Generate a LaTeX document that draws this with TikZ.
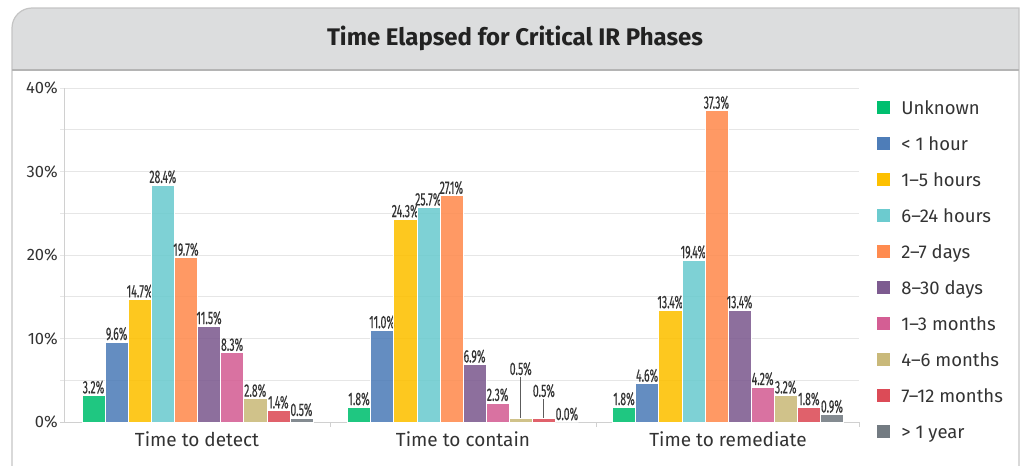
\documentclass[tikz,border=0pt]{standalone}
\usepackage{fontspec}
\setmainfont{Fira Sans}
\newfontfamily\valfont[FakeStretch=0.58,FakeBold=0.3]{Fira Sans}
\usepackage{xcolor}
\usepackage{tikz}
\usetikzlibrary{positioning}

\definecolor{txt}{HTML}{333333}
\definecolor{titletxt}{HTML}{222222}
\definecolor{titlebg}{HTML}{DCDDDE}
\definecolor{framec}{HTML}{C4C4C4}
\definecolor{sepc}{HTML}{B4B4B4}
\definecolor{gridc}{HTML}{E6E6E6}
\definecolor{axisc}{HTML}{D0D0D0}
\definecolor{c0}{HTML}{00BF6F}
\definecolor{c1}{HTML}{4E7DB8}
\definecolor{c2}{HTML}{FDC000}
\definecolor{c3}{HTML}{6CCBCF}
\definecolor{c4}{HTML}{FF8B4F}
\definecolor{c5}{HTML}{7D5B90}
\definecolor{c6}{HTML}{D45E94}
\definecolor{c7}{HTML}{C9B97A}
\definecolor{c8}{HTML}{DC4B57}
\definecolor{c9}{HTML}{737B82}

\begin{document}
\begin{tikzpicture}[x=1pt,y=-1pt]
\tikzstyle{bar}=[draw=white, line width=.5pt, fill opacity=.88]
\tikzstyle{val}=[font=\valfont\fontsize{18}{18}\selectfont, text=txt, anchor=south, inner sep=1.2pt]
\tikzstyle{gridline}=[draw=gridc, line width=1pt]
\tikzstyle{axisline}=[draw=axisc, line width=1pt]
\tikzstyle{leader}=[draw=txt!80, line width=.8pt]
\tikzstyle{ylab}=[font=\fontsize{16.5}{16.5}\selectfont, text=txt, anchor=east, inner sep=0pt]
\tikzstyle{catlab}=[font=\fontsize{19}{19}\selectfont, text=txt, anchor=base, inner sep=0pt]
\tikzstyle{key}=[minimum size=13pt, inner sep=0pt]
\tikzstyle{keylab}=[font=\fontsize{18.5}{18.5}\selectfont, text=txt, inner sep=0pt, text height=17pt, text depth=3pt]
\useasboundingbox (0,0) rectangle (1026,466);

% frame and title
\fill[titlebg] (12,70) -- (12,28) arc[start angle=180, end angle=270, radius=20] -- (1019,8) -- (1019,70) -- cycle;
\draw[framec, line width=1.2pt] (12,470) -- (12,28) arc[start angle=180, end angle=270, radius=20] -- (1019,8) -- (1019,470);
\draw[sepc, line width=1.5pt] (12,70) -- (1019,70);
\node[font=\bfseries\fontsize{24}{24}\selectfont, text=titletxt, anchor=base] (title) at (515,45) {Time Elapsed for Critical IR Phases};

% grid and axes
\foreach \v in {5,10,...,40}
  \draw[gridline] (60,{422-8.35*\v}) -- (859,{422-8.35*\v});
\draw[axisline] (64,88) -- (64,422);
\draw[axisline] (60,422) -- (859,422);
\foreach \x in {330,596,859}
  \draw[axisline] (\x,422) -- (\x,427);
\foreach \v in {0,10,20,30,40}
  \node[ylab] (y\v) at (58,{422-8.35*\v}) {\v\%};

% bars: value/raise of label
\foreach \g/\x/\vals in {det/82/{3.2/0,9.6/0,14.7/0,28.4/0,19.7/0,11.5/0,8.3/0,2.8/0,1.4/0,0.5/0},
                         con/347.5/{1.8/0,11.0/0,24.3/0,25.7/0,27.1/0,6.9/0,2.3/0,0.5/41,0.5/19,0.0/0},
                         rem/612.5/{1.8/0,4.6/0,13.4/0,19.4/0,37.3/0,13.4/0,4.2/0,3.2/0,1.8/0,0.9/0}}{
  \foreach \v/\r [count=\i from 0] in \vals {
    \path[bar, fill=c\i] ({\x+23.1*\i},422) rectangle ({\x+23.1*(\i+1)},{422-8.35*\v});
    \coordinate (\g-t\i) at ({\x+23.1*\i+11.55},{422-8.35*\v});
    \node[val] (\g-v\i) at ({\x+23.1*\i+11.55},{422-8.35*\v-\r}) {\v\%};
    \ifdim\r pt>0pt \draw[leader] (\g-t\i) -- (\g-v\i.south); \fi
  }
}

% categories
\node[catlab] (det) at (197,446) {Time to detect};
\node[catlab] (con) at (463,446) {Time to contain};
\node[catlab] (rem) at (728,446) {Time to remediate};

% legend
\foreach \name [count=\i from 0] in {Unknown,< 1 hour,1–5 hours,6–24 hours,2–7 days,8–30 days,1–3 months,4–6 months,7–12 months,> 1 year}{
  \node[key, fill=c\i] (key\i) at (883.5,{107+36.1*\i}) {};
  \node[keylab, right=11pt of key\i] (keylab\i) {\name};
}
\end{tikzpicture}
\end{document}
